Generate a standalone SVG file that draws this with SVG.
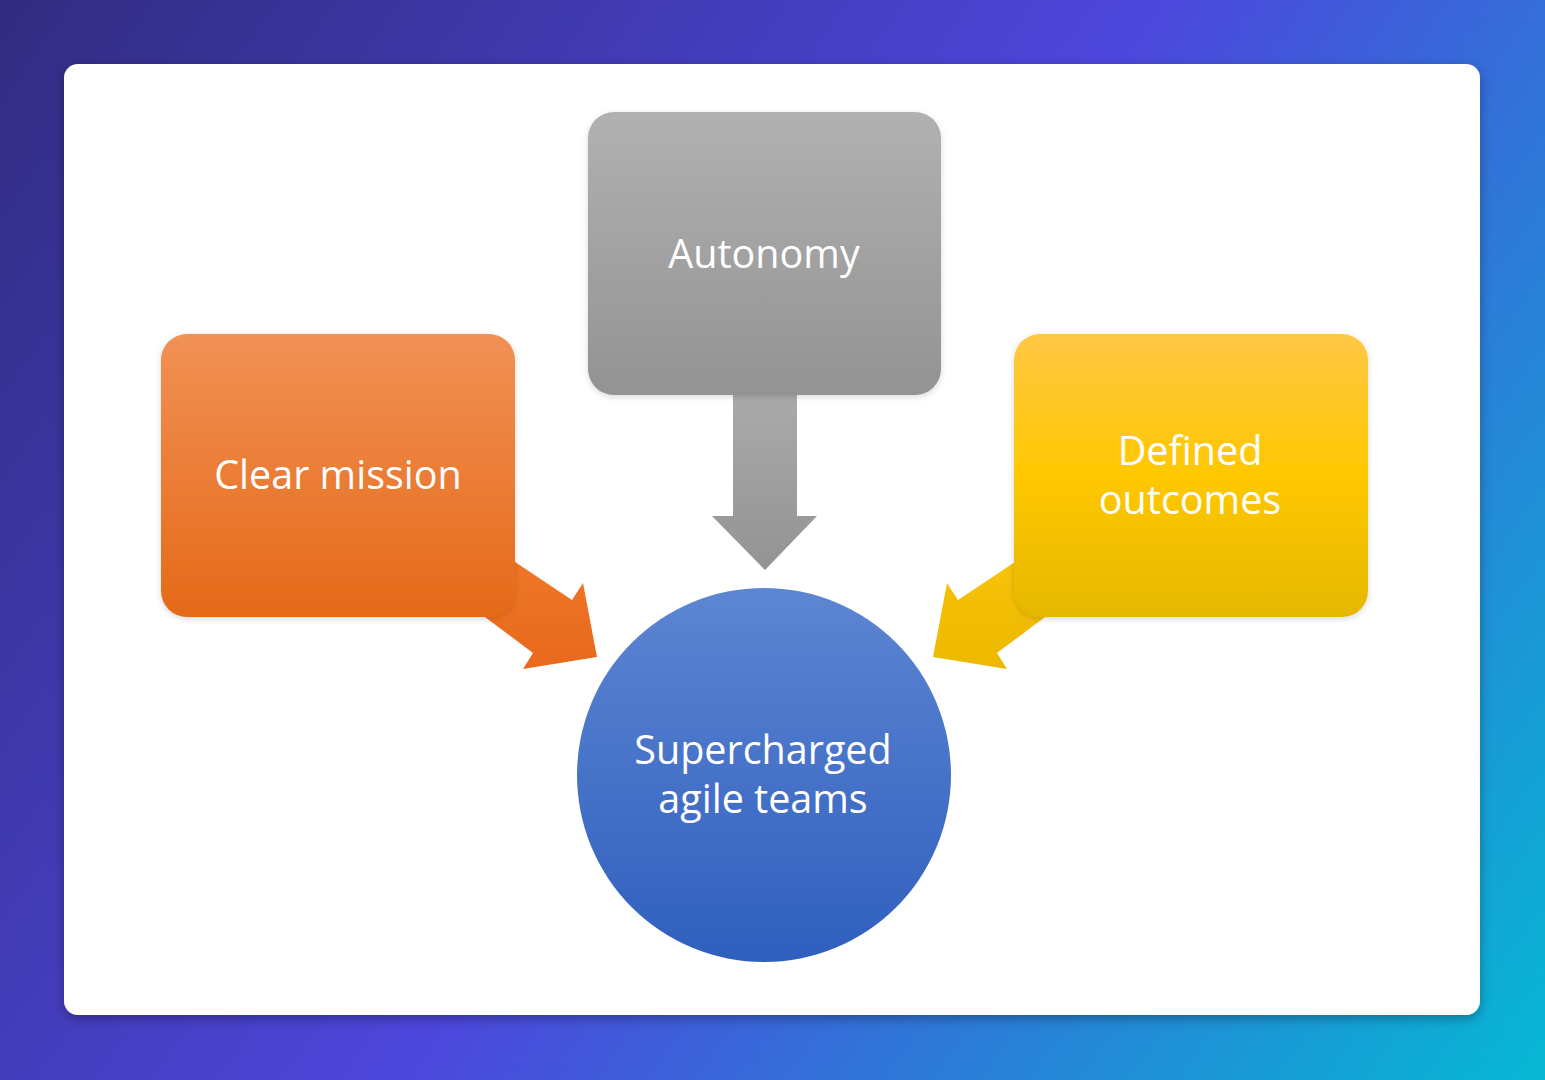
<svg xmlns="http://www.w3.org/2000/svg" width="1545" height="1080" viewBox="0 0 1545 1080">
<defs>
<linearGradient id="bg" x1="0" y1="0" x2="1545" y2="1080" gradientUnits="userSpaceOnUse">
<stop offset="0" stop-color="#312c80"/>
<stop offset="0.5" stop-color="#4d46dc"/>
<stop offset="1" stop-color="#06b8d4"/>
</linearGradient>
<linearGradient id="gGray" x1="0" y1="0" x2="0" y2="1">
<stop offset="0" stop-color="#b1b1b1"/>
<stop offset="1" stop-color="#939393"/>
</linearGradient>
<linearGradient id="gOrange" x1="0" y1="0" x2="0" y2="1">
<stop offset="0" stop-color="#f19155"/>
<stop offset="1" stop-color="#e56918"/>
</linearGradient>
<linearGradient id="gYellow" x1="0" y1="0" x2="0" y2="1">
<stop offset="0" stop-color="#ffc845"/>
<stop offset="0.5" stop-color="#ffc800"/>
<stop offset="1" stop-color="#e5b800"/>
</linearGradient>
<linearGradient id="gBlue" x1="0" y1="0" x2="0" y2="1">
<stop offset="0" stop-color="#5d86d2"/>
<stop offset="1" stop-color="#2f5fbe"/>
</linearGradient>
<linearGradient id="aGray" x1="0" y1="0" x2="0" y2="1">
<stop offset="0" stop-color="#acacac"/>
<stop offset="1" stop-color="#939393"/>
</linearGradient>
<linearGradient id="aOrange" x1="0" y1="0" x2="0" y2="1">
<stop offset="0" stop-color="#f27d2e"/>
<stop offset="1" stop-color="#e8691b"/>
</linearGradient>
<linearGradient id="aYellow" x1="0" y1="0" x2="0" y2="1">
<stop offset="0" stop-color="#fdc80e"/>
<stop offset="1" stop-color="#ecb800"/>
</linearGradient>
<filter id="cardShadow" x="-5%" y="-5%" width="110%" height="110%">
<feDropShadow dx="0" dy="4" stdDeviation="6" flood-color="#000" flood-opacity="0.3"/>
</filter>
<filter id="boxShadow" x="-10%" y="-10%" width="120%" height="120%">
<feDropShadow dx="0" dy="2" stdDeviation="3" flood-color="#000" flood-opacity="0.15"/>
</filter>
</defs>
<style>
.lbl { font-family: "Open Sans", "Noto Sans", sans-serif; font-size: 39.5px; fill: #ffffff; text-anchor: middle; }
</style>
<rect width="1545" height="1080" fill="url(#bg)"/>
<rect x="64" y="64" width="1416" height="951" rx="14" fill="#ffffff" filter="url(#cardShadow)"/>
<g id="connectors">
<polygon points="440,512 572,600 583,583 597,657 523,669 533,653 410,561" fill="url(#aOrange)"/>
<polygon points="1090,512 958,600 947,583 933,657 1007,669 997,653 1120,561" fill="url(#aYellow)"/>
<polygon points="733,380 797,380 797,516 817,516 765,570 712,516 733,516" fill="url(#aGray)"/>
</g>
<g id="node-autonomy">
<rect x="588" y="112" width="353" height="283" rx="26" fill="url(#gGray)" filter="url(#boxShadow)"/>
<text class="lbl" x="764" y="268">Autonomy</text>
</g>
<g id="node-clear-mission">
<rect x="161" y="334" width="354" height="283" rx="26" fill="url(#gOrange)" filter="url(#boxShadow)"/>
<text class="lbl" x="338" y="489">Clear mission</text>
</g>
<g id="node-defined-outcomes">
<rect x="1014" y="334" width="354" height="283" rx="26" fill="url(#gYellow)" filter="url(#boxShadow)"/>
<text class="lbl" x="1190" y="465">Defined</text>
<text class="lbl" x="1190" y="514">outcomes</text>
</g>
<g id="node-supercharged">
<circle cx="764" cy="775" r="187" fill="url(#gBlue)"/>
<text class="lbl" x="763" y="764">Supercharged</text>
<text class="lbl" x="763" y="813">agile teams</text>
</g>
</svg>
